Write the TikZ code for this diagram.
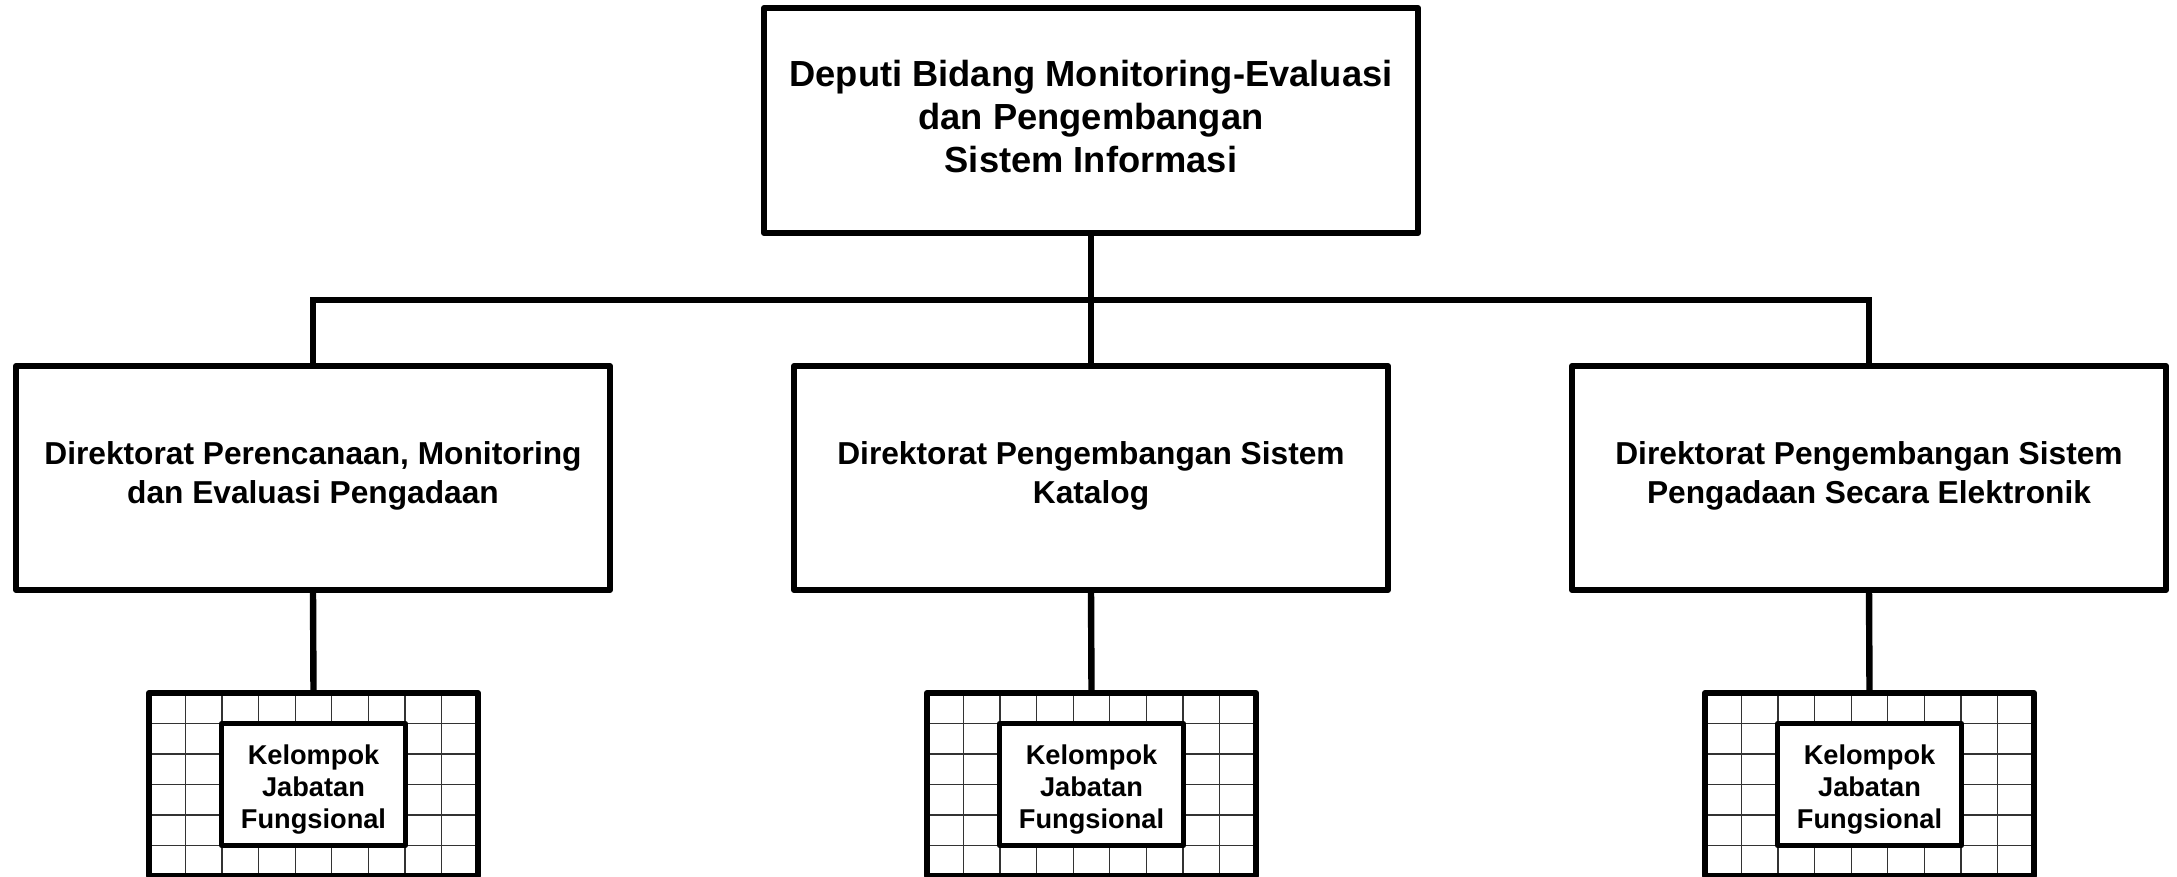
\documentclass[tikz,border=0pt]{standalone}
\usepackage{fontspec}
\setmainfont{Liberation Sans}
\usetikzlibrary{calc}
\newcommand{\mylines}[2]{\raisebox{#1}[\height][\depth]{\begin{tabular}{@{}c@{}}#2\end{tabular}}}
\begin{document}
\begin{tikzpicture}[x=0.5pt,y=-0.5pt,
  box/.style={draw, line width=3pt, line join=round, fill=white, inner sep=0pt, outer sep=0pt, align=center},
  topbox/.style={box, minimum width=327pt, minimum height=112.5pt, font=\bfseries\fontsize{18.15pt}{21.5pt}\selectfont},
  dirbox/.style={box, minimum width=297pt, minimum height=112pt, font=\bfseries\fontsize{15.85pt}{19.5pt}\selectfont},
  gridline/.style={line width=0.65pt, black!80},
  gridbox/.style={draw, line width=3pt, line join=round, inner sep=0pt, outer sep=0pt, minimum width=164.5pt, minimum height=91.5pt,
    path picture={
      \path (path picture bounding box.south west) coordinate (sw) (path picture bounding box.north east) coordinate (ne);
      \foreach \i in {1,...,8} \draw[gridline] ($(sw)!\i/9!(sw-|ne)$) -- ($(sw|-ne)!\i/9!(ne)$);
      \foreach \j in {1,...,5} \draw[gridline] ($(sw)!\j/6!(sw|-ne)$) -- ($(sw-|ne)!\j/6!(ne)$);
    }},
  kbox/.style={box, line width=2.5pt, minimum width=91.8pt, minimum height=61pt, font=\bfseries\fontsize{13.6pt}{16pt}\selectfont},
  conn/.style={line width=3.2pt}
]
\useasboundingbox (0,0) rectangle (2177,877);
\fill[white] (0,0) rectangle (2177,877);

\coordinate (bar) at (1091,300);

\node[topbox] (top) at (1091,120.5) {\mylines{-0.3pt}{Deputi Bidang Monitoring-Evaluasi\\dan Pengembangan\\Sistem Informasi}};

\node[dirbox] (d1) at (313,478) {\mylines{0.7pt}{Direktorat Perencanaan, Monitoring\\dan Evaluasi Pengadaan}};
\node[dirbox] (d2) at (1091,478) {\mylines{0.7pt}{Direktorat Pengembangan Sistem\\Katalog}};
\node[dirbox] (d3) at (1869,478) {\mylines{0.7pt}{Direktorat Pengembangan Sistem\\Pengadaan Secara Elektronik}};

\node[gridbox] (g1) at (313.5,784.5) {};
\node[gridbox] (g2) at (1091.5,784.5) {};
\node[gridbox] (g3) at (1869.5,784.5) {};

\node[kbox] (k1) at (g1.center) {\mylines{-2.8pt}{Kelompok\\Jabatan\\Fungsional}};
\node[kbox] (k2) at (g2.center) {\mylines{-2.8pt}{Kelompok\\Jabatan\\Fungsional}};
\node[kbox] (k3) at (g3.center) {\mylines{-2.8pt}{Kelompok\\Jabatan\\Fungsional}};

\draw[conn] (top.south) -- (bar);
\draw[conn] (d1.north) -- (d1.north |- bar) -- (d3.north |- bar) -- (d3.north);
\draw[conn] (bar) -- (d2.north);
\draw[conn] (d1.south) -- (g1.north);
\draw[conn] (d2.south) -- (g2.north);
\draw[conn] (d3.south) -- (g3.north);
\end{tikzpicture}
\end{document}
